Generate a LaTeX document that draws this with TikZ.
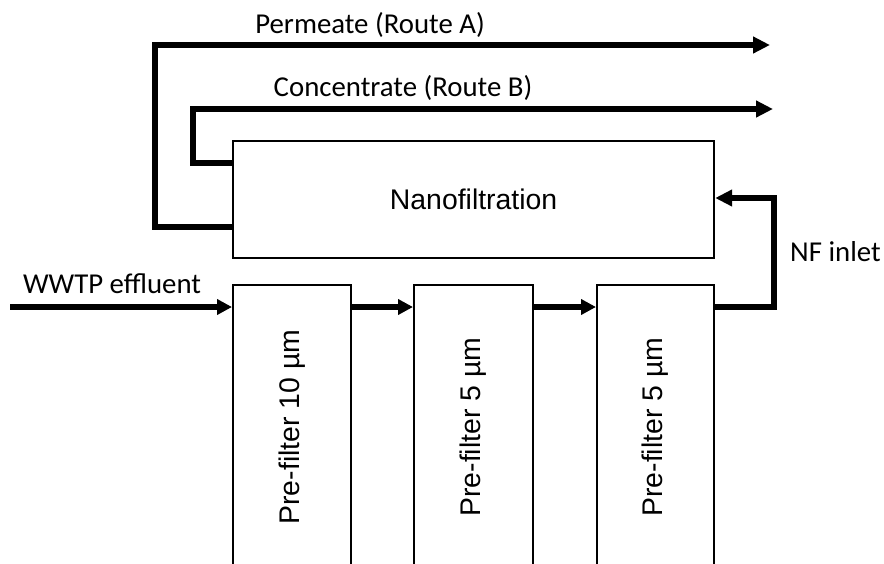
\documentclass[tikz,border=0pt]{standalone}
\usepackage{fontspec}
\setmainfont{Carlito}
\setsansfont{Liberation Sans}
\usetikzlibrary{arrows.meta}
\tikzset{
  box/.style={draw, line width=2.2pt, inner sep=0pt, anchor=north west},
  flow/.style={line width=5.5pt, line join=miter},
  bigtip/.style={-{Triangle[length=17pt,width=16pt]}},
  smalltip/.style={-{Triangle[length=15pt,width=15pt]}},
  lbl/.style={font=\rmfamily\fontsize{28.8}{34}\selectfont, inner sep=0pt},
  boxlbl/.style={font=\sffamily\fontsize{28.4}{34}\selectfont, inner sep=0pt}
}
\begin{document}
\begin{tikzpicture}[x=1pt,y=-1pt]
\useasboundingbox (0,0) rectangle (884,563);
\clip (0,0) rectangle (884,563);
% boxes
\node[box, minimum width=481pt, minimum height=117pt] (nf) at (232,140) {};
\node[boxlbl] (nft) at (nf.center) {Nanofiltration};
\node[box, minimum width=118pt, minimum height=284pt] (pf1) at (232,284) {};
\node[box, minimum width=119pt, minimum height=284pt] (pf2) at (413,284) {};
\node[box, minimum width=117pt, minimum height=284pt] (pf3) at (596,284) {};
\node[boxlbl, rotate=90] (pf1t) at (pf1.center) {Pre-filter 10 µm};
\node[boxlbl, rotate=90] (pf2t) at (pf2.center) {Pre-filter 5 µm};
\node[boxlbl, rotate=90] (pf3t) at (pf3.center) {Pre-filter 5 µm};
% helper coordinates
\coordinate (link) at (0,307);
\coordinate (src) at (10,307);
\coordinate (pAy) at (0,227);
\coordinate (pAc) at (155,45);
\coordinate (pA) at (770,45);
\coordinate (cBy) at (0,163);
\coordinate (cBc) at (193,109);
\coordinate (cB) at (773,109);
\coordinate (inC) at (774,198);
% connectors
\draw[flow, smalltip] (src) -- (pf1.west |- link);
\draw[flow, smalltip] (pf1.east |- link) -- (pf2.west |- link);
\draw[flow, smalltip] (pf2.east |- link) -- (pf3.west |- link);
\draw[flow, bigtip] (pf3.east |- link) -| (inC) -- (nf.east |- inC);
\draw[flow, bigtip] (nf.west |- pAy) -| (pAc) -- (pA);
\draw[flow, bigtip] (nf.west |- cBy) -| (cBc) -- (cB);
% labels
\node[lbl] (lA) at (370,25) {Permeate (Route A)};
\node[lbl] (lB) at (403,88) {Concentrate (Route B)};
\node[lbl] (lW) at (112,284) {WWTP effluent};
\node[lbl, anchor=west] (lN) at (790,252) {NF inlet};
\end{tikzpicture}
\end{document}
